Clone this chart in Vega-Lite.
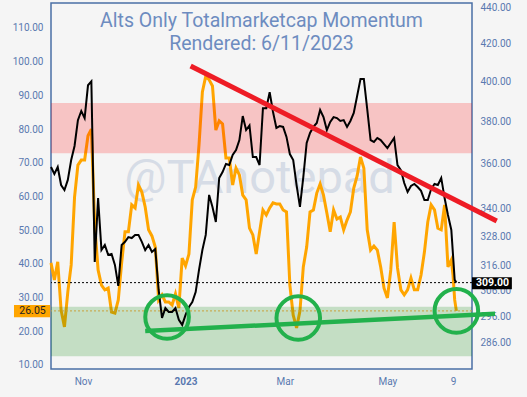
{
  "$schema": "https://vega.github.io/schema/vega-lite/v6.json",
  "width": 421,
  "height": 366,
  "autosize": "none",
  "padding": {"left": 51, "top": 3, "right": 55, "bottom": 28},
  "background": "#f5f5f5",
  "config": {
    "view": {"stroke": "#4a6fa5", "strokeWidth": 1.5, "fill": "#f5f5f5"},
    "font": "Roboto",
    "axis": {"domain": false, "ticks": false, "grid": false, "labelColor": "#5a79b0", "labelFont": "Roboto", "labelFontSize": 10, "labelOverlap": false, "labelSeparation": 0},
    "axisY": {"labelOverlap": false},
    "axisLeft": {"labelOverlap": false},
    "axisQuantitative": {"labelOverlap": false}
  },
  "title": {
    "text": ["Alts Only Totalmarketcap Momentum", "Rendered: 6/11/2023"],
    "font": "Roboto", "fontSize": 19.5, "fontWeight": "normal", "color": "#6d8cc0",
    "lineHeight": 23, "anchor": "middle", "frame": "group", "offset": -52
  },
  "datasets": {
    "ser": [
      {"d": "2022-10-13", "m": 40.3, "p": 358.4},
      {"d": "2022-10-15", "m": 35.2, "p": 355.2},
      {"d": "2022-10-17", "m": 40.6, "p": 358.4},
      {"d": "2022-10-19", "m": 26.3, "p": 350.2},
      {"d": "2022-10-21", "m": 21.3, "p": 348.0},
      {"d": "2022-10-23", "m": 31.7, "p": 352.5},
      {"d": "2022-10-25", "m": 39.7, "p": 361.6},
      {"d": "2022-10-27", "m": 59.8, "p": 368.2},
      {"d": "2022-10-29", "m": 69.3, "p": 380.6},
      {"d": "2022-10-31", "m": 70.8, "p": 385.1},
      {"d": "2022-11-02", "m": 70.8, "p": 381.6},
      {"d": "2022-11-04", "m": 78.0, "p": 398.0},
      {"d": "2022-11-06", "m": 80.0, "p": 400.0},
      {"d": "2022-11-08", "m": 51.5, "p": 317.3},
      {"d": "2022-11-10", "m": 38.2, "p": 344.4},
      {"d": "2022-11-12", "m": 33.7, "p": 322.2},
      {"d": "2022-11-14", "m": 32.3, "p": 324.3},
      {"d": "2022-11-16", "m": 32.8, "p": 320.2},
      {"d": "2022-11-18", "m": 25.7, "p": 320.6},
      {"d": "2022-11-20", "m": 25.4, "p": 316.1},
      {"d": "2022-11-22", "m": 29.3, "p": 307.7},
      {"d": "2022-11-24", "m": 40.3, "p": 324.3},
      {"d": "2022-11-26", "m": 49.5, "p": 325.6},
      {"d": "2022-11-28", "m": 49.5, "p": 327.6},
      {"d": "2022-11-30", "m": 57.5, "p": 327.2},
      {"d": "2022-12-02", "m": 56.6, "p": 328.5},
      {"d": "2022-12-04", "m": 63.4, "p": 328.5},
      {"d": "2022-12-06", "m": 61.3, "p": 325.6},
      {"d": "2022-12-08", "m": 56.9, "p": 322.2},
      {"d": "2022-12-10", "m": 50.1, "p": 324.3},
      {"d": "2022-12-12", "m": 48.3, "p": 321.4},
      {"d": "2022-12-14", "m": 45.0, "p": 322.6},
      {"d": "2022-12-16", "m": 29.3, "p": 306.1},
      {"d": "2022-12-18", "m": 30.8, "p": 295.3},
      {"d": "2022-12-20", "m": 28.7, "p": 299.1},
      {"d": "2022-12-22", "m": 28.7, "p": 297.6},
      {"d": "2022-12-24", "m": 27.8, "p": 297.6},
      {"d": "2022-12-26", "m": 31.1, "p": 299.1},
      {"d": "2022-12-28", "m": 26.9, "p": 294.6},
      {"d": "2022-12-30", "m": 41.7, "p": 292.7},
      {"d": "2023-01-01", "m": 39.4, "p": 296.5},
      {"d": "2023-01-03", "m": 42.9, "p": 299.5},
      {"d": "2023-01-05", "m": 59.0, "p": 301.4},
      {"d": "2023-01-07", "m": 62.8, "p": 305.3},
      {"d": "2023-01-09", "m": 75.3, "p": 314.1},
      {"d": "2023-01-11", "m": 91.0, "p": 322.2},
      {"d": "2023-01-13", "m": 95.7, "p": 328.5},
      {"d": "2023-01-15", "m": 94.6, "p": 345.8},
      {"d": "2023-01-17", "m": 92.8, "p": 340.5},
      {"d": "2023-01-19", "m": 79.7, "p": 334.0},
      {"d": "2023-01-21", "m": 82.4, "p": 353.4},
      {"d": "2023-01-23", "m": 81.5, "p": 356.1},
      {"d": "2023-01-25", "m": 71.4, "p": 359.8},
      {"d": "2023-01-27", "m": 71.4, "p": 359.3},
      {"d": "2023-01-29", "m": 63.4, "p": 364.0},
      {"d": "2023-01-31", "m": 68.4, "p": 366.3},
      {"d": "2023-02-02", "m": 66.4, "p": 371.0},
      {"d": "2023-02-04", "m": 60.4, "p": 382.6},
      {"d": "2023-02-06", "m": 59.0, "p": 375.8},
      {"d": "2023-02-08", "m": 50.6, "p": 378.0},
      {"d": "2023-02-10", "m": 48.6, "p": 363.0},
      {"d": "2023-02-12", "m": 42.9, "p": 363.0},
      {"d": "2023-02-14", "m": 49.5, "p": 359.3},
      {"d": "2023-02-16", "m": 56.0, "p": 386.5},
      {"d": "2023-02-18", "m": 54.5, "p": 386.5},
      {"d": "2023-02-20", "m": 56.6, "p": 394.5},
      {"d": "2023-02-22", "m": 58.1, "p": 384.6},
      {"d": "2023-02-24", "m": 57.8, "p": 376.8},
      {"d": "2023-02-26", "m": 57.8, "p": 377.7},
      {"d": "2023-02-28", "m": 56.0, "p": 377.3},
      {"d": "2023-03-02", "m": 55.4, "p": 372.5},
      {"d": "2023-03-04", "m": 33.7, "p": 364.4},
      {"d": "2023-03-06", "m": 24.8, "p": 361.6},
      {"d": "2023-03-08", "m": 21.0, "p": 350.2},
      {"d": "2023-03-10", "m": 26.0, "p": 340.5},
      {"d": "2023-03-12", "m": 39.1, "p": 353.8},
      {"d": "2023-03-14", "m": 45.0, "p": 369.6},
      {"d": "2023-03-16", "m": 55.4, "p": 374.4},
      {"d": "2023-03-18", "m": 56.0, "p": 377.3},
      {"d": "2023-03-20", "m": 61.0, "p": 379.2},
      {"d": "2023-03-22", "m": 63.7, "p": 385.6},
      {"d": "2023-03-24", "m": 60.4, "p": 382.1},
      {"d": "2023-03-26", "m": 55.1, "p": 375.8},
      {"d": "2023-03-28", "m": 49.5, "p": 379.7},
      {"d": "2023-03-30", "m": 56.0, "p": 382.1},
      {"d": "2023-04-01", "m": 53.3, "p": 381.6},
      {"d": "2023-04-03", "m": 53.9, "p": 380.2},
      {"d": "2023-04-05", "m": 50.1, "p": 380.6},
      {"d": "2023-04-07", "m": 53.0, "p": 377.3},
      {"d": "2023-04-09", "m": 55.4, "p": 380.2},
      {"d": "2023-04-11", "m": 62.5, "p": 384.1},
      {"d": "2023-04-13", "m": 66.1, "p": 392.6},
      {"d": "2023-04-15", "m": 71.7, "p": 401.2},
      {"d": "2023-04-17", "m": 68.4, "p": 401.2},
      {"d": "2023-04-19", "m": 50.1, "p": 386.0},
      {"d": "2023-04-21", "m": 44.1, "p": 371.0},
      {"d": "2023-04-23", "m": 45.3, "p": 370.1},
      {"d": "2023-04-25", "m": 44.1, "p": 372.0},
      {"d": "2023-04-27", "m": 39.1, "p": 371.0},
      {"d": "2023-04-29", "m": 32.8, "p": 369.1},
      {"d": "2023-05-01", "m": 29.9, "p": 367.2},
      {"d": "2023-05-03", "m": 38.2, "p": 369.6},
      {"d": "2023-05-05", "m": 52.4, "p": 372.0},
      {"d": "2023-05-07", "m": 38.8, "p": 359.3},
      {"d": "2023-05-09", "m": 32.3, "p": 357.0},
      {"d": "2023-05-11", "m": 30.8, "p": 351.1},
      {"d": "2023-05-13", "m": 32.3, "p": 347.1},
      {"d": "2023-05-15", "m": 35.8, "p": 349.8},
      {"d": "2023-05-17", "m": 32.3, "p": 350.7},
      {"d": "2023-05-19", "m": 32.3, "p": 349.3},
      {"d": "2023-05-21", "m": 36.7, "p": 347.6},
      {"d": "2023-05-23", "m": 43.5, "p": 343.5},
      {"d": "2023-05-25", "m": 52.4, "p": 343.5},
      {"d": "2023-05-27", "m": 57.5, "p": 348.4},
      {"d": "2023-05-29", "m": 56.0, "p": 350.7},
      {"d": "2023-05-31", "m": 50.6, "p": 350.2},
      {"d": "2023-06-02", "m": 50.1, "p": 353.4},
      {"d": "2023-06-04", "m": 57.5, "p": 344.4},
      {"d": "2023-06-06", "m": 39.1, "p": 337.0},
      {"d": "2023-06-08", "m": 41.2, "p": 330.6},
      {"d": "2023-06-09", "m": 36.7, "p": 320.2},
      {"d": "2023-06-10", "m": 29.3, "p": 310.1},
      {"d": "2023-06-11", "m": 26.05, "p": 309.0}
    ],
    "bands": [
      {"zone": "overbought", "lo": 72.8, "hi": 87.7},
      {"zone": "oversold", "lo": 12.6, "hi": 27.3}
    ],
    "red": [
      {"d": "2023-01-04", "p": 408.0},
      {"d": "2023-07-05", "p": 334.4}
    ],
    "green": [
      {"d": "2022-12-08", "p": 290.4},
      {"d": "2023-07-04", "p": 296.9}
    ],
    "circles": [
      {"d": "2022-12-21", "p": 295.7},
      {"d": "2023-03-09", "p": 295.3},
      {"d": "2023-06-11", "p": 298.0}
    ],
    "last": [
      {"d0": "2023-06-20T07:00:00Z", "d1": "2023-07-14T00:00:00Z", "dt": "2023-07-02T12:00:00Z", "lo": 306.4, "hi": 311.1, "v": 309.0, "label": "309.00"}
    ],
    "lastm": [
      {"d0": "2022-09-21T00:00:00Z", "d1": "2022-10-12T12:00:00Z", "dt": "2022-10-02T00:00:00Z", "lo": 24.2, "hi": 27.8, "v": 26.05, "label": "26.05"}
    ],
    "mark": [
      {"d": "2023-02-14", "v": 61.0, "label": "@TAnotepad"}
    ]
  },
  "layer": [
    {
      "layer": [
        {
          "data": {"name": "mark"},
          "mark": {"type": "text", "fontSize": 47, "font": "Roboto", "color": "#d6dce6", "align": "center", "baseline": "alphabetic"},
          "encoding": {
            "x": {"field": "d", "type": "temporal", "scale": {"type": "utc", "domain": [{"year": 2022, "month": 10, "date": 13, "utc": true}, {"year": 2023, "month": 6, "date": 20, "hours": 7, "utc": true}]}, "axis": {"title": null, "values": [{"year": 2022, "month": 11, "date": 1, "utc": true}, {"year": 2023, "month": 1, "date": 1, "utc": true}, {"year": 2023, "month": 3, "date": 1, "utc": true}, {"year": 2023, "month": 5, "date": 1, "utc": true}, {"year": 2023, "month": 6, "date": 9, "utc": true}], "labelExpr": "utcFormat(datum.value, '%m-%d') == '01-01' ? utcFormat(datum.value, '%Y') : (utcFormat(datum.value, '%d') == '09' ? '9' : utcFormat(datum.value, '%b'))", "labelFontWeight": {"condition": {"test": "utcFormat(datum.value, '%m-%d') == '01-01'", "value": "bold"}, "value": "normal"}, "labelPadding": 7, "labelFlush": false, "labelOverlap": false}},
            "y": {"field": "v", "type": "quantitative", "scale": {"domain": [8.81, 117.4], "nice": false, "zero": false}, "axis": {"orient": "left", "title": null, "values": [10, 20, 30, 40, 50, 60, 70, 80, 90, 100, 110], "format": ".2f", "labelPadding": 8, "labelOverlap": false}},
            "text": {"field": "label"}
          }
        },
        {
          "data": {"name": "ser"},
          "mark": {"type": "line", "color": "#ffa500", "strokeWidth": 3},
          "encoding": {
            "x": {"field": "d", "type": "temporal", "scale": {"type": "utc", "domain": [{"year": 2022, "month": 10, "date": 13, "utc": true}, {"year": 2023, "month": 6, "date": 20, "hours": 7, "utc": true}]}, "axis": {"title": null, "values": [{"year": 2022, "month": 11, "date": 1, "utc": true}, {"year": 2023, "month": 1, "date": 1, "utc": true}, {"year": 2023, "month": 3, "date": 1, "utc": true}, {"year": 2023, "month": 5, "date": 1, "utc": true}, {"year": 2023, "month": 6, "date": 9, "utc": true}], "labelExpr": "utcFormat(datum.value, '%m-%d') == '01-01' ? utcFormat(datum.value, '%Y') : (utcFormat(datum.value, '%d') == '09' ? '9' : utcFormat(datum.value, '%b'))", "labelFontWeight": {"condition": {"test": "utcFormat(datum.value, '%m-%d') == '01-01'", "value": "bold"}, "value": "normal"}, "labelPadding": 7, "labelFlush": false, "labelOverlap": false}},
            "y": {"field": "m", "type": "quantitative", "scale": {"domain": [8.81, 117.4], "nice": false, "zero": false}, "axis": {"orient": "left", "title": null, "values": [10, 20, 30, 40, 50, 60, 70, 80, 90, 100, 110], "format": ".2f", "labelPadding": 8, "labelOverlap": false}}
          }
        },
        {
          "data": {"name": "bands"},
          "mark": {"type": "rect", "opacity": 0.2},
          "encoding": {
            "y": {"field": "lo", "type": "quantitative", "scale": {"domain": [8.81, 117.4], "nice": false, "zero": false}, "axis": {"orient": "left", "title": null, "values": [10, 20, 30, 40, 50, 60, 70, 80, 90, 100, 110], "format": ".2f", "labelPadding": 8, "labelOverlap": false}},
            "y2": {"field": "hi"},
            "color": {"field": "zone", "type": "nominal", "scale": {"domain": ["overbought", "oversold"], "range": ["#ff0000", "#008000"]}, "legend": null}
          }
        },
        {
          "data": {"name": "lastm"},
          "mark": {"type": "rule", "color": "#c9a13a", "strokeDash": [2, 2], "strokeWidth": 1},
          "encoding": {
            "y": {"field": "v", "type": "quantitative", "scale": {"domain": [8.81, 117.4], "nice": false, "zero": false}, "axis": {"orient": "left", "title": null, "values": [10, 20, 30, 40, 50, 60, 70, 80, 90, 100, 110], "format": ".2f", "labelPadding": 8, "labelOverlap": false}}
          }
        },
        {
          "data": {"name": "lastm"},
          "mark": {"type": "rect", "color": "#ffa500", "opacity": 1},
          "encoding": {
            "x": {"field": "d0", "type": "temporal", "scale": {"type": "utc", "domain": [{"year": 2022, "month": 10, "date": 13, "utc": true}, {"year": 2023, "month": 6, "date": 20, "hours": 7, "utc": true}]}, "axis": {"title": null, "values": [{"year": 2022, "month": 11, "date": 1, "utc": true}, {"year": 2023, "month": 1, "date": 1, "utc": true}, {"year": 2023, "month": 3, "date": 1, "utc": true}, {"year": 2023, "month": 5, "date": 1, "utc": true}, {"year": 2023, "month": 6, "date": 9, "utc": true}], "labelExpr": "utcFormat(datum.value, '%m-%d') == '01-01' ? utcFormat(datum.value, '%Y') : (utcFormat(datum.value, '%d') == '09' ? '9' : utcFormat(datum.value, '%b'))", "labelFontWeight": {"condition": {"test": "utcFormat(datum.value, '%m-%d') == '01-01'", "value": "bold"}, "value": "normal"}, "labelPadding": 7, "labelFlush": false, "labelOverlap": false}},
            "x2": {"field": "d1"},
            "y": {"field": "lo", "type": "quantitative", "scale": {"domain": [8.81, 117.4], "nice": false, "zero": false}, "axis": {"orient": "left", "title": null, "values": [10, 20, 30, 40, 50, 60, 70, 80, 90, 100, 110], "format": ".2f", "labelPadding": 8, "labelOverlap": false}},
            "y2": {"field": "hi"}
          }
        },
        {
          "data": {"name": "lastm"},
          "mark": {"type": "text", "color": "#222222", "fontSize": 10.5, "font": "Roboto", "align": "center", "baseline": "middle"},
          "encoding": {
            "x": {"field": "dt", "type": "temporal", "scale": {"type": "utc", "domain": [{"year": 2022, "month": 10, "date": 13, "utc": true}, {"year": 2023, "month": 6, "date": 20, "hours": 7, "utc": true}]}, "axis": {"title": null, "values": [{"year": 2022, "month": 11, "date": 1, "utc": true}, {"year": 2023, "month": 1, "date": 1, "utc": true}, {"year": 2023, "month": 3, "date": 1, "utc": true}, {"year": 2023, "month": 5, "date": 1, "utc": true}, {"year": 2023, "month": 6, "date": 9, "utc": true}], "labelExpr": "utcFormat(datum.value, '%m-%d') == '01-01' ? utcFormat(datum.value, '%Y') : (utcFormat(datum.value, '%d') == '09' ? '9' : utcFormat(datum.value, '%b'))", "labelFontWeight": {"condition": {"test": "utcFormat(datum.value, '%m-%d') == '01-01'", "value": "bold"}, "value": "normal"}, "labelPadding": 7, "labelFlush": false, "labelOverlap": false}},
            "y": {"field": "v", "type": "quantitative", "scale": {"domain": [8.81, 117.4], "nice": false, "zero": false}, "axis": {"orient": "left", "title": null, "values": [10, 20, 30, 40, 50, 60, 70, 80, 90, 100, 110], "format": ".2f", "labelPadding": 8, "labelOverlap": false}},
            "text": {"field": "label"}
          }
        }
      ]
    },
    {
      "layer": [
        {
          "data": {"name": "ser"},
          "mark": {"type": "line", "color": "#000000", "strokeWidth": 2},
          "encoding": {
            "x": {"field": "d", "type": "temporal", "scale": {"type": "utc", "domain": [{"year": 2022, "month": 10, "date": 13, "utc": true}, {"year": 2023, "month": 6, "date": 20, "hours": 7, "utc": true}]}, "axis": {"title": null, "values": [{"year": 2022, "month": 11, "date": 1, "utc": true}, {"year": 2023, "month": 1, "date": 1, "utc": true}, {"year": 2023, "month": 3, "date": 1, "utc": true}, {"year": 2023, "month": 5, "date": 1, "utc": true}, {"year": 2023, "month": 6, "date": 9, "utc": true}], "labelExpr": "utcFormat(datum.value, '%m-%d') == '01-01' ? utcFormat(datum.value, '%Y') : (utcFormat(datum.value, '%d') == '09' ? '9' : utcFormat(datum.value, '%b'))", "labelFontWeight": {"condition": {"test": "utcFormat(datum.value, '%m-%d') == '01-01'", "value": "bold"}, "value": "normal"}, "labelPadding": 7, "labelFlush": false, "labelOverlap": false}},
            "y": {"field": "p", "type": "quantitative", "scale": {"type": "log", "domain": [276.6, 442.3], "nice": false, "zero": false}, "axis": {"orient": "right", "title": null, "values": [286, 296, 306, 316, 328, 340, 360, 380, 400, 420, 440], "format": ".2f", "labelPadding": 8, "labelOverlap": false}}
          }
        },
        {
          "data": {"name": "last"},
          "mark": {"type": "rule", "color": "#000000", "strokeDash": [2, 2], "strokeWidth": 1},
          "encoding": {
            "y": {"field": "v", "type": "quantitative", "scale": {"type": "log", "domain": [276.6, 442.3], "nice": false, "zero": false}, "axis": {"orient": "right", "title": null, "values": [286, 296, 306, 316, 328, 340, 360, 380, 400, 420, 440], "format": ".2f", "labelPadding": 8, "labelOverlap": false}}
          }
        },
        {
          "data": {"name": "red"},
          "mark": {"type": "line", "color": "#ee1c25", "strokeWidth": 5, "clip": false},
          "encoding": {
            "x": {"field": "d", "type": "temporal", "scale": {"type": "utc", "domain": [{"year": 2022, "month": 10, "date": 13, "utc": true}, {"year": 2023, "month": 6, "date": 20, "hours": 7, "utc": true}]}, "axis": {"title": null, "values": [{"year": 2022, "month": 11, "date": 1, "utc": true}, {"year": 2023, "month": 1, "date": 1, "utc": true}, {"year": 2023, "month": 3, "date": 1, "utc": true}, {"year": 2023, "month": 5, "date": 1, "utc": true}, {"year": 2023, "month": 6, "date": 9, "utc": true}], "labelExpr": "utcFormat(datum.value, '%m-%d') == '01-01' ? utcFormat(datum.value, '%Y') : (utcFormat(datum.value, '%d') == '09' ? '9' : utcFormat(datum.value, '%b'))", "labelFontWeight": {"condition": {"test": "utcFormat(datum.value, '%m-%d') == '01-01'", "value": "bold"}, "value": "normal"}, "labelPadding": 7, "labelFlush": false, "labelOverlap": false}},
            "y": {"field": "p", "type": "quantitative", "scale": {"type": "log", "domain": [276.6, 442.3], "nice": false, "zero": false}, "axis": {"orient": "right", "title": null, "values": [286, 296, 306, 316, 328, 340, 360, 380, 400, 420, 440], "format": ".2f", "labelPadding": 8, "labelOverlap": false}}
          }
        },
        {
          "data": {"name": "green"},
          "mark": {"type": "line", "color": "#22b14c", "strokeWidth": 4.5, "clip": false},
          "encoding": {
            "x": {"field": "d", "type": "temporal", "scale": {"type": "utc", "domain": [{"year": 2022, "month": 10, "date": 13, "utc": true}, {"year": 2023, "month": 6, "date": 20, "hours": 7, "utc": true}]}, "axis": {"title": null, "values": [{"year": 2022, "month": 11, "date": 1, "utc": true}, {"year": 2023, "month": 1, "date": 1, "utc": true}, {"year": 2023, "month": 3, "date": 1, "utc": true}, {"year": 2023, "month": 5, "date": 1, "utc": true}, {"year": 2023, "month": 6, "date": 9, "utc": true}], "labelExpr": "utcFormat(datum.value, '%m-%d') == '01-01' ? utcFormat(datum.value, '%Y') : (utcFormat(datum.value, '%d') == '09' ? '9' : utcFormat(datum.value, '%b'))", "labelFontWeight": {"condition": {"test": "utcFormat(datum.value, '%m-%d') == '01-01'", "value": "bold"}, "value": "normal"}, "labelPadding": 7, "labelFlush": false, "labelOverlap": false}},
            "y": {"field": "p", "type": "quantitative", "scale": {"type": "log", "domain": [276.6, 442.3], "nice": false, "zero": false}, "axis": {"orient": "right", "title": null, "values": [286, 296, 306, 316, 328, 340, 360, 380, 400, 420, 440], "format": ".2f", "labelPadding": 8, "labelOverlap": false}}
          }
        },
        {
          "data": {"name": "circles"},
          "mark": {"type": "point", "shape": "circle", "filled": false, "stroke": "#22b14c", "strokeWidth": 4, "size": 1900, "opacity": 1, "clip": false},
          "encoding": {
            "x": {"field": "d", "type": "temporal", "scale": {"type": "utc", "domain": [{"year": 2022, "month": 10, "date": 13, "utc": true}, {"year": 2023, "month": 6, "date": 20, "hours": 7, "utc": true}]}, "axis": {"title": null, "values": [{"year": 2022, "month": 11, "date": 1, "utc": true}, {"year": 2023, "month": 1, "date": 1, "utc": true}, {"year": 2023, "month": 3, "date": 1, "utc": true}, {"year": 2023, "month": 5, "date": 1, "utc": true}, {"year": 2023, "month": 6, "date": 9, "utc": true}], "labelExpr": "utcFormat(datum.value, '%m-%d') == '01-01' ? utcFormat(datum.value, '%Y') : (utcFormat(datum.value, '%d') == '09' ? '9' : utcFormat(datum.value, '%b'))", "labelFontWeight": {"condition": {"test": "utcFormat(datum.value, '%m-%d') == '01-01'", "value": "bold"}, "value": "normal"}, "labelPadding": 7, "labelFlush": false, "labelOverlap": false}},
            "y": {"field": "p", "type": "quantitative", "scale": {"type": "log", "domain": [276.6, 442.3], "nice": false, "zero": false}, "axis": {"orient": "right", "title": null, "values": [286, 296, 306, 316, 328, 340, 360, 380, 400, 420, 440], "format": ".2f", "labelPadding": 8, "labelOverlap": false}}
          }
        },
        {
          "data": {"name": "last"},
          "mark": {"type": "rect", "color": "#000000", "opacity": 1},
          "encoding": {
            "x": {"field": "d0", "type": "temporal", "scale": {"type": "utc", "domain": [{"year": 2022, "month": 10, "date": 13, "utc": true}, {"year": 2023, "month": 6, "date": 20, "hours": 7, "utc": true}]}, "axis": {"title": null, "values": [{"year": 2022, "month": 11, "date": 1, "utc": true}, {"year": 2023, "month": 1, "date": 1, "utc": true}, {"year": 2023, "month": 3, "date": 1, "utc": true}, {"year": 2023, "month": 5, "date": 1, "utc": true}, {"year": 2023, "month": 6, "date": 9, "utc": true}], "labelExpr": "utcFormat(datum.value, '%m-%d') == '01-01' ? utcFormat(datum.value, '%Y') : (utcFormat(datum.value, '%d') == '09' ? '9' : utcFormat(datum.value, '%b'))", "labelFontWeight": {"condition": {"test": "utcFormat(datum.value, '%m-%d') == '01-01'", "value": "bold"}, "value": "normal"}, "labelPadding": 7, "labelFlush": false, "labelOverlap": false}},
            "x2": {"field": "d1"},
            "y": {"field": "lo", "type": "quantitative", "scale": {"type": "log", "domain": [276.6, 442.3], "nice": false, "zero": false}, "axis": {"orient": "right", "title": null, "values": [286, 296, 306, 316, 328, 340, 360, 380, 400, 420, 440], "format": ".2f", "labelPadding": 8, "labelOverlap": false}},
            "y2": {"field": "hi"}
          }
        },
        {
          "data": {"name": "last"},
          "mark": {"type": "text", "color": "#ffffff", "fontSize": 10.5, "fontWeight": "bold", "font": "Roboto", "align": "center", "baseline": "middle"},
          "encoding": {
            "x": {"field": "dt", "type": "temporal", "scale": {"type": "utc", "domain": [{"year": 2022, "month": 10, "date": 13, "utc": true}, {"year": 2023, "month": 6, "date": 20, "hours": 7, "utc": true}]}, "axis": {"title": null, "values": [{"year": 2022, "month": 11, "date": 1, "utc": true}, {"year": 2023, "month": 1, "date": 1, "utc": true}, {"year": 2023, "month": 3, "date": 1, "utc": true}, {"year": 2023, "month": 5, "date": 1, "utc": true}, {"year": 2023, "month": 6, "date": 9, "utc": true}], "labelExpr": "utcFormat(datum.value, '%m-%d') == '01-01' ? utcFormat(datum.value, '%Y') : (utcFormat(datum.value, '%d') == '09' ? '9' : utcFormat(datum.value, '%b'))", "labelFontWeight": {"condition": {"test": "utcFormat(datum.value, '%m-%d') == '01-01'", "value": "bold"}, "value": "normal"}, "labelPadding": 7, "labelFlush": false, "labelOverlap": false}},
            "y": {"field": "v", "type": "quantitative", "scale": {"type": "log", "domain": [276.6, 442.3], "nice": false, "zero": false}, "axis": {"orient": "right", "title": null, "values": [286, 296, 306, 316, 328, 340, 360, 380, 400, 420, 440], "format": ".2f", "labelPadding": 8, "labelOverlap": false}},
            "text": {"field": "label"}
          }
        }
      ]
    }
  ],
  "resolve": {"scale": {"y": "independent"}}
}
